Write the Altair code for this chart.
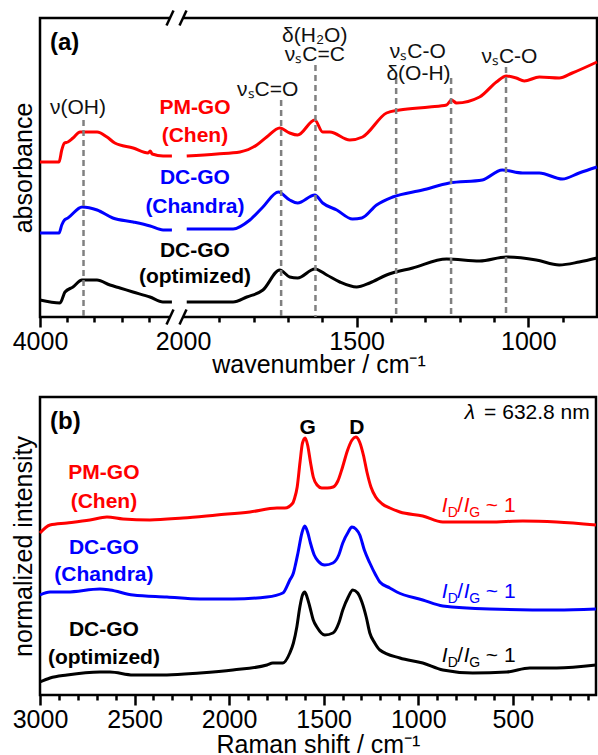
import altair as alt
import pandas as pd

FONT = "Liberation Sans"
RED, BLUE, BLACK = "#ff0000", "#0000ff", "#000000"
GRAY = "#808080"

# ---------------- panel (a): FTIR (wavenumber cm-1, absorbance offset a.u.) ----------------
chen_a_w = [4000, 3720, 3680, 3640, 3590, 3515, 3410, 3300, 3160, 3015, 2900, 2630, 2410, 2380, 2350, 2190, 2060,
            1995, 1907, 1840, 1791, 1762, 1724, 1695, 1672, 1622, 1599, 1578, 1520, 1483, 1413, 1375, 1288, 1238,
            1224, 1209, 1142, 1093, 1064, 1035, 1012, 968, 910, 872, 800]
chen_a_v = [1.55, 1.55, 1.67, 1.74, 1.75, 1.79, 1.85, 1.85, 1.85, 1.80, 1.74, 1.69, 1.64, 1.66, 1.63, 1.61, 1.61,
            1.61, 1.63, 1.65, 1.72, 1.80, 1.89, 1.84, 1.82, 1.97, 1.85, 1.85, 1.77, 1.80, 2.04, 2.07, 2.10, 2.12,
            2.17, 2.14, 2.20, 2.35, 2.41, 2.39, 2.36, 2.40, 2.39, 2.44, 2.55]

chandra_a_w = [4000, 3720, 3680, 3640, 3590, 3380, 3160, 2930, 2630, 2380, 2190, 2060,
               1995, 1860, 1811, 1773, 1728, 1695, 1672, 1622, 1599, 1558, 1512, 1485, 1442, 1395, 1308, 1230,
               1134, 1076, 1017, 968, 901, 852, 800]
chandra_a_v = [0.84, 0.84, 0.92, 0.97, 0.99, 1.10, 1.07, 0.99, 0.95, 0.91, 0.87, 0.87,
               0.88, 0.88, 0.97, 1.10, 1.25, 1.17, 1.14, 1.22, 1.14, 1.07, 0.98, 0.99, 1.12, 1.20, 1.27, 1.34,
               1.37, 1.47, 1.44, 1.44, 1.38, 1.44, 1.50]

opt_a_w = [4000, 3706, 3632, 3515, 3383, 3162, 2971, 2824, 2633, 2383, 2192, 2060,
           1995, 1860, 1820, 1773, 1724, 1695, 1672, 1622, 1587, 1549, 1500, 1462, 1413, 1337, 1238, 1142,
           1064, 977, 910, 852, 800]
opt_a_v = [0.17, 0.14, 0.25, 0.30, 0.37, 0.37, 0.32, 0.29, 0.25, 0.20, 0.15, 0.15,
           0.15, 0.15, 0.20, 0.27, 0.47, 0.40, 0.39, 0.48, 0.42, 0.35, 0.30, 0.34, 0.42, 0.49, 0.58, 0.56,
           0.60, 0.57, 0.52, 0.55, 0.59]

band_w = [3360, 1720, 1620, 1385, 1225, 1065]
band_top = [1.97, 2.17, 2.52, 2.39, 2.39, 2.50]

band_text = ["ν(OH)", "νₛC=O", "δ(H₂O)", "νₛC=C", "νₛC-O", "δ(O-H)", "νₛC-O"]
band_text_w = [3441, 1759, 1622, 1622, 1322, 1320, 1055]
band_text_v = [2.09, 2.27, 2.81, 2.62, 2.65, 2.43, 2.60]

sample_text = ["PM-GO", "(Chen)", "DC-GO", "(Chandra)", "DC-GO", "(optimized)"]
sample_colors = [RED, RED, BLUE, BLUE, BLACK, BLACK]
sample_a_w = 1971
sample_a_v = [2.09, 1.81, 1.39, 1.10, 0.66, 0.40]

major_a = [4000, 2000, 1500, 1000]
minor_a = [3600, 3200, 2800, 2400, 1900, 1800, 1700, 1600, 1400, 1300, 1200, 1100, 900]

# ---------------- panel (b): Raman (shift cm-1, normalized intensity offset) ----------------
chen_b_w = [3000, 2947, 2857, 2736, 2646, 2561, 2419, 2244, 2065, 1890, 1747, 1705, 1663, 1655, 1640, 1625,
            1612, 1598, 1585, 1570, 1555, 1535, 1510, 1480, 1450, 1425, 1400, 1375, 1350, 1330, 1310, 1290,
            1270, 1250, 1225, 1190, 1150, 1097, 976, 870, 622, 447, 268, 60]
chen_b_v = [1.62, 1.70, 1.72, 1.75, 1.78, 1.76, 1.75, 1.77, 1.80, 1.83, 1.87, 1.87, 1.92, 1.96, 2.08, 2.33,
            2.52, 2.57, 2.50, 2.33, 2.18, 2.10, 2.07, 2.07, 2.08, 2.14, 2.28, 2.44, 2.55, 2.58, 2.53, 2.40,
            2.22, 2.08, 1.98, 1.91, 1.87, 1.83, 1.79, 1.73, 1.73, 1.74, 1.73, 1.70]

chandra_b_w = [3000, 2947, 2857, 2683, 2630, 2508, 2329, 2154, 1980, 1800, 1716, 1679, 1660, 1652, 1636,
               1615, 1600, 1585, 1570, 1550, 1530, 1494, 1451, 1420, 1399, 1370, 1351, 1330, 1309, 1285,
               1256, 1225, 1203, 1150, 1113, 976, 870, 622, 268, 60]
chandra_b_v = [1.00, 1.03, 1.03, 1.06, 1.05, 1.00, 0.98, 0.96, 0.96, 0.98, 1.02, 1.15, 1.22, 1.28, 1.42,
               1.62, 1.69, 1.63, 1.52, 1.40, 1.34, 1.30, 1.32, 1.40, 1.52, 1.63, 1.68, 1.66, 1.60, 1.45,
               1.32, 1.20, 1.13, 1.07, 1.03, 0.95, 0.89, 0.86, 0.85, 0.86]

opt_b_w = [3000, 2947, 2857, 2683, 2630, 2508, 2329, 2154, 1980, 1800, 1769, 1716, 1679, 1660, 1642, 1626,
           1612, 1600, 1588, 1573, 1555, 1536, 1494, 1451, 1420, 1399, 1370, 1346, 1320, 1298, 1275, 1256,
           1230, 1203, 1097, 976, 870, 712, 532, 410, 268, 60]
opt_b_v = [0.13, 0.17, 0.20, 0.23, 0.23, 0.20, 0.20, 0.22, 0.25, 0.30, 0.32, 0.32, 0.42, 0.52, 0.68, 0.88,
           1.00, 1.03, 0.98, 0.88, 0.75, 0.68, 0.60, 0.62, 0.72, 0.85, 0.98, 1.05, 1.02, 0.93, 0.78, 0.62,
           0.52, 0.45, 0.37, 0.32, 0.25, 0.22, 0.23, 0.27, 0.27, 0.30]

sample_b_w = 2662
sample_b_v = [2.22, 1.93, 1.47, 1.20, 0.65, 0.37]
ratio_w = 875
ratio_v = [1.83, 0.97, 0.33]
ratio_colors = [RED, BLUE, BLACK]

major_b = [3000, 2500, 2000, 1500, 1000, 500]
minor_b = [w for w in range(2900, 0, -100) if w % 500 != 0]

# ---------------- geometry ----------------
PAGE_W, PAGE_H = 598, 755
LEFT, TOP = 40, 18
W_A, H_A = 557, 299
W_B, H_B = 556, 298
GAP = 80
YMAX_A, YMAX_B = 2.99, 2.98
LEFT_SLOPE = 0.068
RIGHT_X0 = 145.0
RIGHT_SLOPE = (W_A - RIGHT_X0) / 1200.0


def brk(w):
    """position on the broken wavenumber axis"""
    return (4000 - w) * LEFT_SLOPE if w >= 2050 else RIGHT_X0 + (2000 - w) * RIGHT_SLOPE


POS_2000_LABEL = 143.0

# ---------------- panel (a) ----------------
rows = []
for name, col, ws, vs in [("chen", RED, chen_a_w, chen_a_v),
                          ("chandra", BLUE, chandra_a_w, chandra_a_v),
                          ("opt", BLACK, opt_a_w, opt_a_v)]:
    for w, v in zip(ws, vs):
        rows.append(dict(seg=name + ("L" if w >= 2050 else "R"), w=w, v=v, pos=brk(w), color=col))
df_a = pd.DataFrame(rows)

xa = alt.Scale(domain=[0, W_A], nice=False, zero=False)
ya = alt.Scale(domain=[0, YMAX_A], nice=False, zero=False)

major_pos_a = [brk(4000), POS_2000_LABEL, brk(1500), brk(1000)]
label_expr_a = ("datum.value < 60 ? '4000' : datum.value < 230 ? '2000' : "
                "datum.value < 400 ? '1500' : '1000'")

axis_major_a = alt.Axis(values=major_pos_a, labelExpr=label_expr_a, tickSize=10, tickWidth=2.5,
                        tickOpacity={"condition": {"test": "datum.value > 100 && datum.value < 200", "value": 0},
                                     "value": 1},
                        labelFontSize=25, labelPadding=2, labelFlush=False, domain=False, grid=False,
                        title="wavenumber / cm⁻¹", titleFontSize=25, titleFontWeight="normal",
                        titleY=55, titleBaseline="alphabetic", orient="bottom")
axis_minor_a = alt.Axis(values=[brk(w) for w in minor_a], labels=False, tickSize=5, tickWidth=2.5,
                        domain=False, grid=False, title=None, orient="bottom")
# identical y-axis definition given to every layer so the shared axis merges cleanly
yaxis_a = alt.Axis(title="absorbance", labels=False, ticks=False, domain=False, grid=False, orient="left",
                   titleFontSize=25, titleFontWeight="normal", titlePadding=4, titleColor="black")


def YA(field):
    return alt.Y(field, scale=ya, axis=yaxis_a)


lines_a = alt.Chart(df_a).mark_line(strokeWidth=3, interpolate="monotone").encode(
    x=alt.X("pos:Q", scale=xa, axis=axis_major_a),
    y=YA("v:Q"),
    color=alt.Color("color:N", scale=None),
    detail="seg:N",
)

df_minor_a = pd.DataFrame({"pos": [brk(w) for w in minor_a], "v": [0.0] * len(minor_a)})
minor_layer_a = alt.Chart(df_minor_a).mark_point(opacity=0).encode(
    x=alt.X("pos:Q", scale=xa, axis=axis_minor_a),
    y=YA("v:Q"),
)

df_band = pd.DataFrame({"pos": [brk(w) for w in band_w], "top": band_top, "bot": [0.0] * len(band_w)})
bands = alt.Chart(df_band).mark_rule(color=GRAY, strokeWidth=2.5, strokeDash=[6, 4]).encode(
    x=alt.X("pos:Q", scale=xa, axis=None),
    y=YA("top:Q"),
    y2="bot:Q",
)

df_btext = pd.DataFrame({"t": band_text, "pos": [brk(w) for w in band_text_w], "v": band_text_v})
btext = alt.Chart(df_btext).mark_text(fontSize=21, font=FONT, color="#111111", align="center",
                                      baseline="middle").encode(
    x=alt.X("pos:Q", scale=xa, axis=None),
    y=YA("v:Q"),
    text="t:N",
)

df_sa = pd.DataFrame({"t": sample_text, "pos": [brk(sample_a_w)] * 6, "v": sample_a_v, "color": sample_colors})
stext_a = alt.Chart(df_sa).mark_text(fontSize=21, font=FONT, fontWeight="bold", align="center",
                                     baseline="middle").encode(
    x=alt.X("pos:Q", scale=xa, axis=None),
    y=YA("v:Q"),
    text="t:N",
    color=alt.Color("color:N", scale=None),
)

df_tag_a = pd.DataFrame({"t": ["(a)"], "pos": [brk(3853)], "v": [2.74]})
tag_a = alt.Chart(df_tag_a).mark_text(fontSize=24, font=FONT, fontWeight="bold", align="left",
                                      baseline="middle", color="black").encode(
    x=alt.X("pos:Q", scale=xa, axis=None),
    y=YA("v:Q"),
    text="t:N",
)

# axis-break decoration: white gap in the frame, then two slashes (top and bottom)
s1, s2 = brk(2100) + 0.8, POS_2000_LABEL
df_gap = pd.DataFrame({"x1": [s1, s1], "x2": [s2, s2], "y1": [YMAX_A - 0.05, -0.09], "y2": [YMAX_A + 0.05, 0.05]})
gap = alt.Chart(df_gap).mark_rect(color="white").encode(
    x=alt.X("x1:Q", scale=xa, axis=None), x2="x2:Q",
    y=YA("y1:Q"), y2="y2:Q",
)
slash_rows = []
for c in (s1, s2):
    for yc in (YMAX_A, 0.0):
        slash_rows.append({"x1": c - 3.5, "x2": c + 3.5, "y1": yc - 0.075, "y2": yc + 0.075})
slashes = alt.Chart(pd.DataFrame(slash_rows)).mark_rule(color="black", strokeWidth=2.5).encode(
    x=alt.X("x1:Q", scale=xa, axis=None), x2="x2:Q",
    y=YA("y1:Q"), y2="y2:Q",
)

panel_a = alt.layer(lines_a, minor_layer_a, bands, gap, slashes, btext, stext_a, tag_a).resolve_axis(
    x="independent").properties(width=W_A, height=H_A)

# ---------------- panel (b) ----------------
rows = []
for name, col, ws, vs in [("chen", RED, chen_b_w, chen_b_v),
                          ("chandra", BLUE, chandra_b_w, chandra_b_v),
                          ("opt", BLACK, opt_b_w, opt_b_v)]:
    for w, v in zip(ws, vs):
        rows.append(dict(series=name, w=w, v=v, color=col))
df_b = pd.DataFrame(rows)

xb = alt.Scale(domain=[3000, 60], nice=False, zero=False)
yb = alt.Scale(domain=[0, YMAX_B], nice=False, zero=False)

axis_major_b = alt.Axis(values=major_b, format="d", tickSize=10, tickWidth=2.5, labelFontSize=25,
                        labelPadding=2, labelFlush=False, domain=False, grid=False,
                        title="Raman shift / cm⁻¹", titleFontSize=25, titleFontWeight="normal",
                        titleY=57, titleBaseline="alphabetic", orient="bottom")
axis_minor_b = alt.Axis(values=minor_b, labels=False, tickSize=5, tickWidth=2.5, domain=False, grid=False,
                        title=None, orient="bottom")
yaxis_b = alt.Axis(title="normalized intensity", labels=False, ticks=False, domain=False, grid=False,
                   orient="left", titleFontSize=25, titleFontWeight="normal", titlePadding=4,
                   titleColor="black")


def YB(field):
    return alt.Y(field, scale=yb, axis=yaxis_b)


lines_b = alt.Chart(df_b).mark_line(strokeWidth=3, interpolate="monotone").encode(
    x=alt.X("w:Q", scale=xb, axis=axis_major_b),
    y=YB("v:Q"),
    color=alt.Color("color:N", scale=None),
    detail="series:N",
)

minor_layer_b = alt.Chart(pd.DataFrame({"w": minor_b, "v": [0.0] * len(minor_b)})).mark_point(opacity=0).encode(
    x=alt.X("w:Q", scale=xb, axis=axis_minor_b),
    y=YB("v:Q"),
)

df_sb = pd.DataFrame({"t": sample_text, "w": [sample_b_w] * 6, "v": sample_b_v, "color": sample_colors})
stext_b = alt.Chart(df_sb).mark_text(fontSize=21, font=FONT, fontWeight="bold", align="center",
                                     baseline="middle").encode(
    x=alt.X("w:Q", scale=xb, axis=None),
    y=YB("v:Q"),
    text="t:N",
    color=alt.Color("color:N", scale=None),
)

df_peaks = pd.DataFrame({"t": ["G", "D"], "w": [1584, 1325], "v": [2.67, 2.67]})
peak_text = alt.Chart(df_peaks).mark_text(
    fontSize=21, font=FONT, fontWeight="bold", align="center", baseline="middle", color="black").encode(
    x=alt.X("w:Q", scale=xb, axis=None),
    y=YB("v:Q"),
    text="t:N",
)
df_tag_b = pd.DataFrame({"t": ["(b)"], "w": [2947], "v": [2.73]})
tag_b = alt.Chart(df_tag_b).mark_text(
    fontSize=24, font=FONT, fontWeight="bold", align="left", baseline="middle", color="black").encode(
    x=alt.X("w:Q", scale=xb, axis=None),
    y=YB("v:Q"),
    text="t:N",
)

df_lam = pd.DataFrame({"w": [754], "v": [2.82], "t": ["λ"]})
lam = alt.Chart(df_lam).mark_text(fontSize=21, font=FONT, fontStyle="italic", align="left",
                                  baseline="middle", color="black").encode(
    x=alt.X("w:Q", scale=xb, axis=None), y=YB("v:Q"), text="t:N")
df_lam2 = pd.DataFrame({"w": [93], "v": [2.82], "t": ["= 632.8 nm"]})
lam2 = alt.Chart(df_lam2).mark_text(fontSize=21, font=FONT, align="right",
                                    baseline="middle", color="black").encode(
    x=alt.X("w:Q", scale=xb, axis=None), y=YB("v:Q"), text="t:N")

df_ratio = pd.DataFrame({"w": [ratio_w] * 3, "v": ratio_v, "color": ratio_colors})
ratio_pieces = [("I", 0, 0, 21, "italic"), ("D", 6, 5, 14, "normal"), ("/", 15.5, 0, 21, "normal"),
                ("I", 22, 0, 21, "italic"), ("G", 27.5, 5, 14, "normal"), ("~ 1", 44, 0, 21, "normal")]
ratio_layers = []
for txt, dx, dy, fs, st in ratio_pieces:
    ratio_layers.append(
        alt.Chart(df_ratio).mark_text(text=txt, dx=dx, dy=dy, fontSize=fs, fontStyle=st, font=FONT,
                                      align="left", baseline="alphabetic").encode(
            x=alt.X("w:Q", scale=xb, axis=None),
            y=YB("v:Q"),
            color=alt.Color("color:N", scale=None),
        )
    )

panel_b = alt.layer(lines_b, minor_layer_b, stext_b, peak_text, tag_b, lam, lam2, *ratio_layers).resolve_axis(
    x="independent").properties(width=W_B, height=H_B)

# autosize "none" with the whole page in the padding: plot areas sit exactly at (LEFT, TOP)
chart = alt.vconcat(panel_a, panel_b, spacing=GAP, bounds="flush").properties(
    autosize=alt.AutoSizeParams(type="none"),
    padding={"left": LEFT, "top": TOP, "right": PAGE_W - LEFT, "bottom": PAGE_H - TOP},
    background="white",
).configure_view(stroke="black", strokeWidth=2.5).configure_axis(
    labelFont=FONT, titleFont=FONT, labelColor="black", titleColor="black", tickColor="black"
).configure_text(font=FONT)

chart.save("out.html", embed_options={"renderer": "svg", "actions": False})
